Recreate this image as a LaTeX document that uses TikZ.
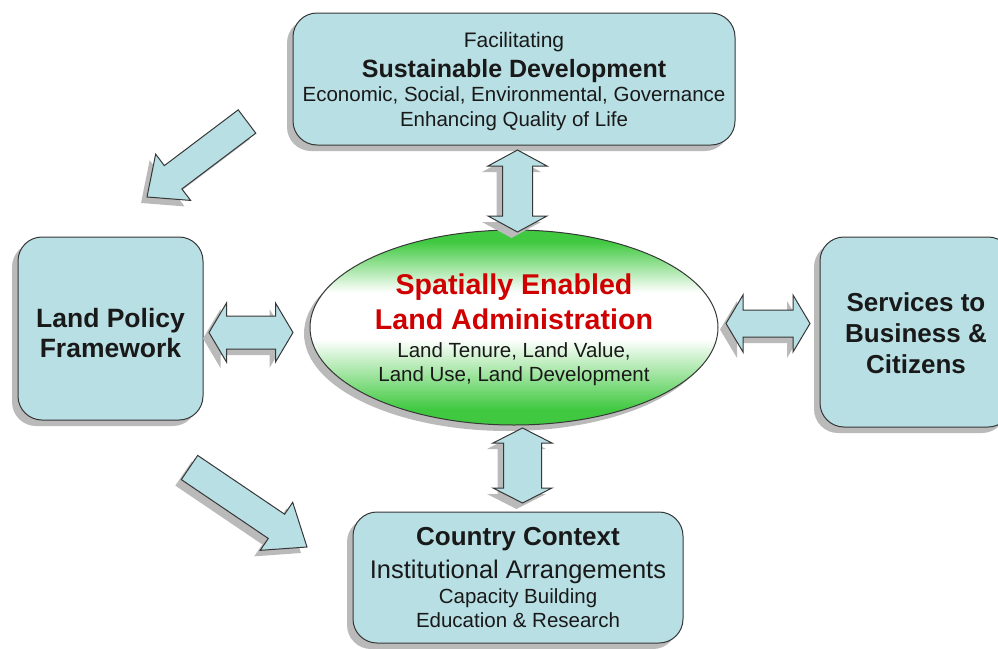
\documentclass[tikz,border=0pt]{standalone}
\usepackage{fontspec}
\setmainfont{Liberation Sans}
\usetikzlibrary{calc}
\usetikzlibrary{shapes.geometric}
\usetikzlibrary{shadows}

\definecolor{boxblue}{RGB}{184,223,228}
\definecolor{selagreen}{RGB}{64,201,64}
\definecolor{selared}{RGB}{208,0,0}
\definecolor{edgegray}{RGB}{55,55,55}

\pgfdeclareverticalshading{selashade}{100bp}{color(0bp)=(selagreen); color(29bp)=(selagreen); color(47bp)=(white); color(59bp)=(white); color(72bp)=(selagreen); color(100bp)=(selagreen)}

\tikzset{
  shade gray/.style={drop shadow={shadow xshift=-6pt, shadow yshift=-6pt, fill=black!27, opacity=1}},
  panel/.style={draw=edgegray, fill=boxblue, line width=1pt, rounded corners=24pt, shade gray,
    align=center, inner sep=0pt, text=black!90, font=\fontsize{20.5}{24}\selectfont},
  sela/.style={ellipse, draw=edgegray, line width=1pt, shading=selashade, shade gray,
    align=center, inner sep=0pt, text=black!90, font=\fontsize{20.5}{24}\selectfont},
  blockarrow/.style={draw=edgegray, fill=boxblue, line width=1pt, line join=miter, shade gray},
}

% double block arrow: tip, tip, shaft half width, head half width, head length
\newcommand{\dblarrow}[5]{%
  \draw[blockarrow] let \p1=($(#2)-(#1)$), \n1={atan2(\y1,\x1)}, \n2={veclen(\x1,\y1)} in
    [shift={(#1)}, rotate=\n1]
    (0pt,0pt) -- (#5,#4) -- (#5,#3) -- (\n2-#5,#3) -- (\n2-#5,#4) -- (\n2,0pt)
    -- (\n2-#5,-#4) -- (\n2-#5,-#3) -- (#5,-#3) -- (#5,-#4) -- cycle;}
% single block arrow: tail, tip, shaft half width, head half width, head length
\newcommand{\sglarrow}[5]{%
  \draw[blockarrow] let \p1=($(#2)-(#1)$), \n1={atan2(\y1,\x1)}, \n2={veclen(\x1,\y1)} in
    [shift={(#1)}, rotate=\n1]
    (0pt,#3) -- (\n2-#5,#3) -- (\n2-#5,#4) -- (\n2,0pt) -- (\n2-#5,-#4) -- (\n2-#5,-#3)
    -- (0pt,-#3) -- cycle;}

\begin{document}
\begin{tikzpicture}[x=1pt, y=-1pt]
\useasboundingbox (0,0) rectangle (998,648);

\node[panel, minimum width=442pt, minimum height=132pt] (sustdev) at (514,79)
  {{\fontsize{21}{24}\selectfont\rule{0pt}{21pt}Facilitating}\\[6pt]
   {\fontsize{25}{24}\selectfont\bfseries Sustainable Development}\\
   Economic, Social, Environmental, Governance\\[1pt]
   Enhancing Quality of Life};

\node[panel, minimum width=185pt, minimum height=183pt, font=\fontsize{26.5}{30}\selectfont\bfseries]
  (policy) at (110.5,328.5) {\rule{0pt}{29pt}Land Policy\\Framework};

\node[panel, minimum width=192pt, minimum height=190pt, font=\fontsize{26}{31}\selectfont\bfseries]
  (services) at (916,332) {\rule{0pt}{22pt}Services to\\Business \&\\Citizens};

\node[panel, minimum width=330pt, minimum height=131pt] (context) at (518,577.5)
  {{\fontsize{26}{24}\selectfont\bfseries Country Context}\\[9pt]
   {\fontsize{25.5}{24}\selectfont Institutional Arrangements}\\[1pt]
   Capacity Building\\
   Education \& Research};

\node[sela, minimum width=408pt, minimum height=195pt] (sela) at (514,327.5)
  {{\fontsize{28.6}{24}\selectfont\bfseries\color{selared}\rule{0pt}{25pt}Spatially Enabled}\\[8pt]
   {\fontsize{28.6}{24}\selectfont\bfseries\color{selared} Land Administration}\\[4pt]
   Land Tenure, Land Value,\\
   Land Use, Land Development};

\coordinate (sd-s) at (517.5,150);   \coordinate (sela-n) at (517.5,232);
\coordinate (sela-s) at (522.5,428); \coordinate (cc-n) at (522.5,503);
\coordinate (lp-e) at (209,332.5);   \coordinate (sela-w) at (293,332.5);
\coordinate (sela-e) at (726,323.5); \coordinate (sv-w) at (810,323.5);
\coordinate (sd-tail) at (247,121.5);  \coordinate (lp-tip) at (147,197);
\coordinate (lp-tail) at (189.5,467.5); \coordinate (cc-tip) at (307,547);

\foreach \ta/\tb/\sw/\hw/\hl in {sd-s/sela-n/15pt/29.5pt/16pt, sela-s/cc-n/19pt/29.5pt/15pt,
  lp-e/sela-w/16.5pt/29.5pt/17.5pt, sela-e/sv-w/13.5pt/28.5pt/17pt}
  {\dblarrow{\ta}{\tb}{\sw}{\hw}{\hl}}

\foreach \ta/\tb/\hl in {sd-tail/lp-tip/32.7pt, lp-tail/cc-tip/36.9pt}
  {\sglarrow{\ta}{\tb}{14.6pt}{29pt}{\hl}}

\end{tikzpicture}
\end{document}
